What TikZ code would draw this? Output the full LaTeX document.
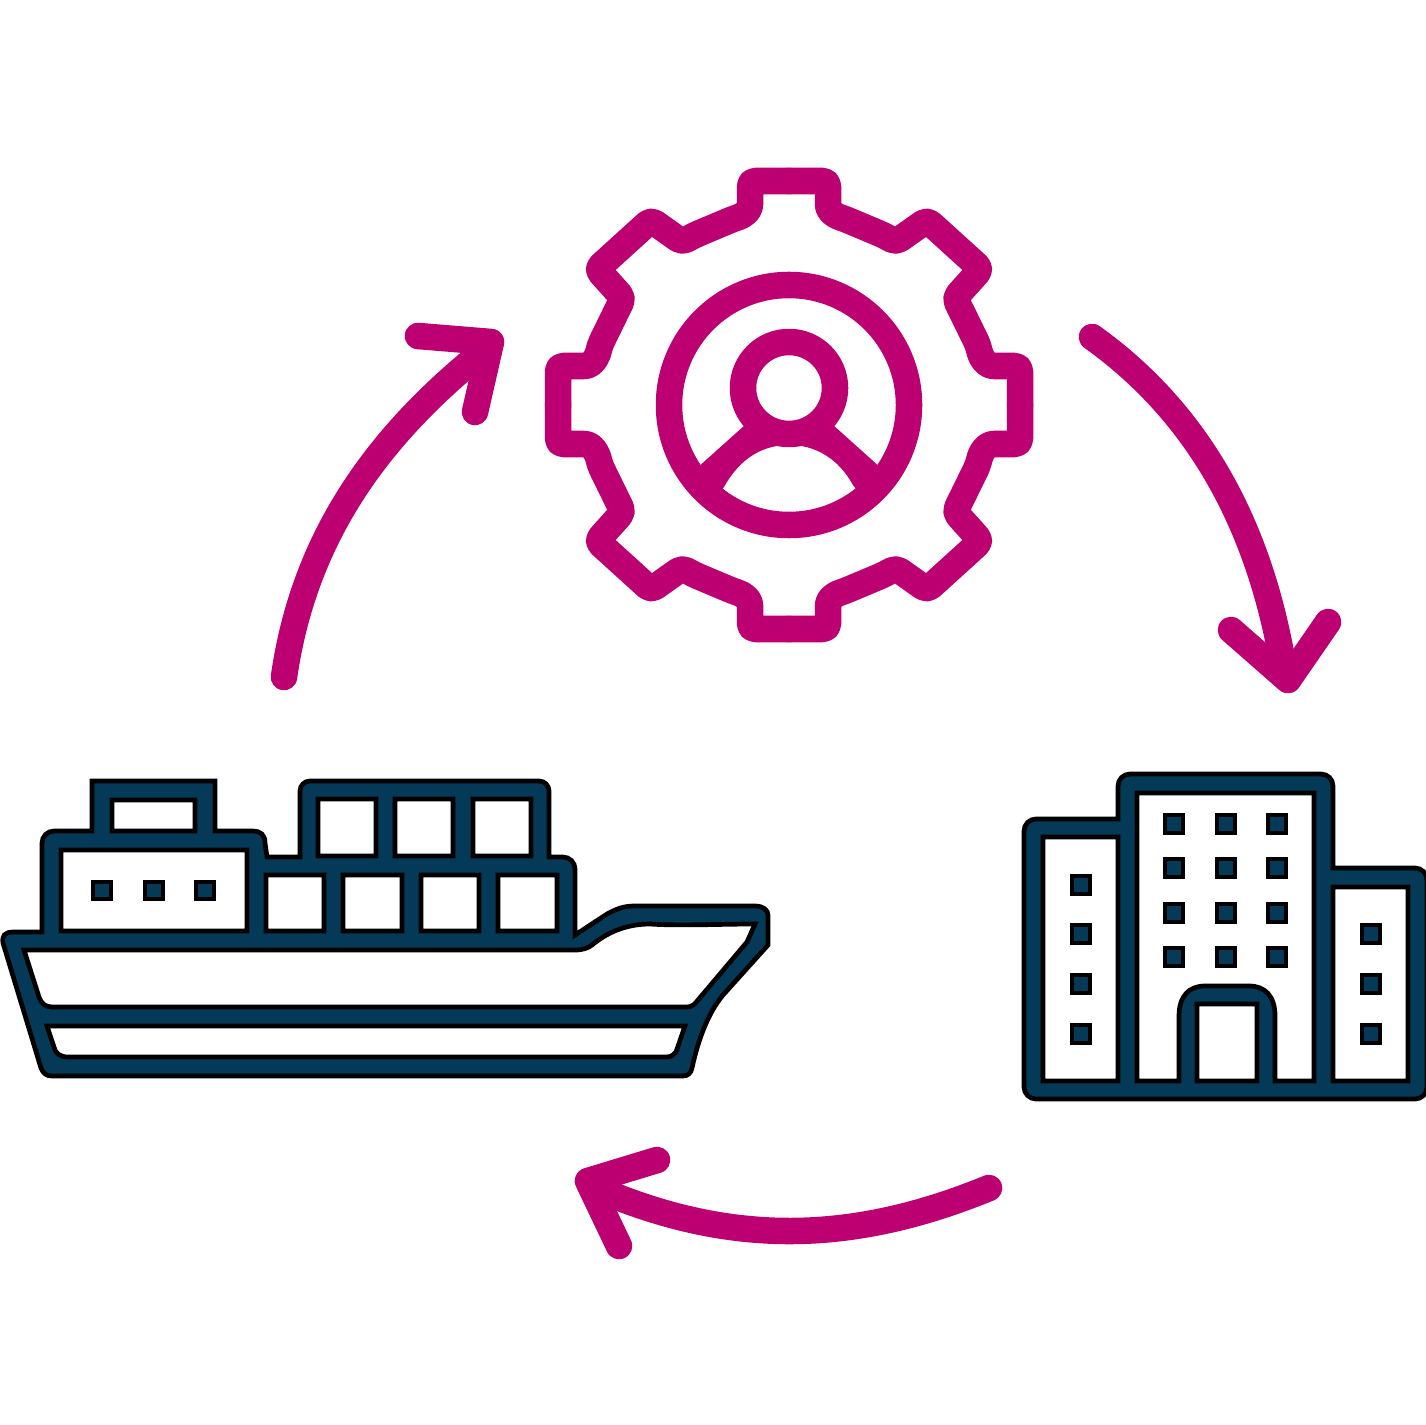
\documentclass[tikz,border=0pt]{standalone}
\definecolor{gearpink}{HTML}{BC0072}
\definecolor{shipnavy}{HTML}{043A57}
\tikzset{
  pinkline/.style={draw=gearpink,line width=0.265cm,line cap=round,line join=round},
  navyshape/.style={draw=black,line width=0.047cm,fill=shipnavy,even odd rule,line join=miter},
}

\begin{document}
\begin{tikzpicture}[x=0.01cm,y=-0.01cm]
  \useasboundingbox (0,0) rectangle (1425,1425);

  \coordinate (gearc) at (789,405);
  \coordinate (headc) at (789,388);

  % gear, one quarter mirrored four times
  \foreach \sx in {1,-1}
    \foreach \sy in {1,-1}
      \draw[pinkline,rounded corners=0.05cm,shift={(gearc)},xscale=\sx,yscale=\sy]
        (0,-224) -- (-39,-224) -- (-39,-205) .. controls (-39,-195) and (-44,-190) .. (-56,-186)
        -- (-94,-170) -- (-107,-163) -- (-138,-185)
        -- (-192,-136) -- (-166,-107) -- (-189,-60)
        .. controls (-192,-47) and (-197,-39) .. (-210,-39) -- (-231,-39) -- (-231,0);
  \draw[pinkline] (gearc) circle [radius=120];

  % person
  \draw[pinkline] (headc) circle [radius=46];
  \fill[gearpink] (696,469) -- (745,425) -- (833,425) -- (882,469) -- (860,494) -- (853,485)
    .. controls (838,458) and (815,445) .. (789,445)
    .. controls (763,445) and (740,458) .. (724,487) -- (718,494) -- cycle;

  % arrows
  \draw[pinkline] (284,677) .. controls (305,530) and (385,430) .. (485,350);
  \draw[pinkline] (418,336) -- (491,342) -- (475,412);
  \draw[pinkline] (1092,337) .. controls (1180,400) and (1255,500) .. (1283,665);
  \draw[pinkline] (1231,630) -- (1288,680) -- (1328,622);
  \draw[pinkline] (989,1188) .. controls (850,1245) and (730,1245) .. (600,1190);
  \draw[pinkline] (657,1160) -- (588,1181) -- (619,1246);

  % ship
  \draw[navyshape]
    (92,781) -- (215,781) -- (215,831) -- (252,831)
    .. controls (261,831) and (265,835) .. (265,843) -- (267,857) -- (300,857)
    [rounded corners=0.1cm] -- (300,781) -- (549,781) [sharp corners] -- (549,857)
    [rounded corners=0.12cm] -- (575,857) [sharp corners] -- (575,935) -- (607,914)
    .. controls (618,908) and (625,906) .. (635,906) -- (755,906)
    .. controls (763,906) and (768,910) .. (768,915) -- (768,945) -- (723,995)
    .. controls (708,1013) and (698,1040) .. (692,1068)
    .. controls (691,1073) and (688,1076) .. (683,1076) -- (52,1076)
    .. controls (46,1076) and (43,1073) .. (41,1068) -- (3,943)
    .. controls (2,936) and (4,932) .. (14,932) -- (42,932)
    [rounded corners=0.12cm] -- (42,831) [sharp corners] -- (92,831) -- cycle
    (112,800) rectangle (195,831)
    (61,850) rectangle (247,931)
    (318,799) rectangle (376,856)
    (395,799) rectangle (453,856)
    (473,799) rectangle (531,856)
    (266,875) rectangle (324,931)
    (343,875) rectangle (402,931)
    (421,875) rectangle (479,931)
    (498,875) rectangle (557,931)
    (24,950) -- (575,950) .. controls (583,950) and (588,948) .. (592,945)
    .. controls (610,930) and (630,924) .. (650,924) .. controls (680,926) and (720,924) .. (755,924)
    -- (747,942) -- (698,1000) .. controls (695,1004) and (692,1007) .. (687,1007) -- (52,1007)
    .. controls (45,1007) and (41,1003) .. (39,997) -- cycle
    (47,1026) -- (685,1026) -- (676,1052) .. controls (674,1055) and (671,1057) .. (666,1057) -- (68,1057)
    .. controls (60,1057) and (55,1053) .. (54,1047) -- cycle;
  \foreach \wx in {102,154,205}
    \draw[navyshape] (\wx-9,882) rectangle (\wx+9,899);

  % building
  \draw[navyshape]
    [rounded corners=0.12cm] (1118,819) -- (1024,819) -- (1024,1099) -- (1427,1099) -- (1427,868)
    [sharp corners] -- (1333,868) [rounded corners=0.12cm] -- (1333,774) -- (1118,774)
    [sharp corners] -- cycle
    (1043,837) rectangle (1118,1081)
    (1333,887) rectangle (1408,1081)
    (1197,1004) rectangle (1257,1081)
    (1137,793) -- (1314,793) -- (1314,1081) -- (1275,1081) -- (1275,1016)
    .. controls (1275,996) and (1265,986) .. (1249,986) -- (1205,986)
    .. controls (1189,986) and (1179,996) .. (1179,1016) -- (1179,1081) -- (1137,1081) -- cycle;
  \foreach \wx in {1174,1226,1277}
    \foreach \wy in {824,868,913,957}
      \draw[navyshape] (\wx-9,\wy-9) rectangle (\wx+9,\wy+9);
  \foreach \wy in {885,934,984,1034}
    \draw[navyshape] (1081-9,\wy-9) rectangle (1081+9,\wy+9);
  \foreach \wy in {934,984,1034}
    \draw[navyshape] (1371-9,\wy-9) rectangle (1371+9,\wy+9);
\end{tikzpicture}
\end{document}
